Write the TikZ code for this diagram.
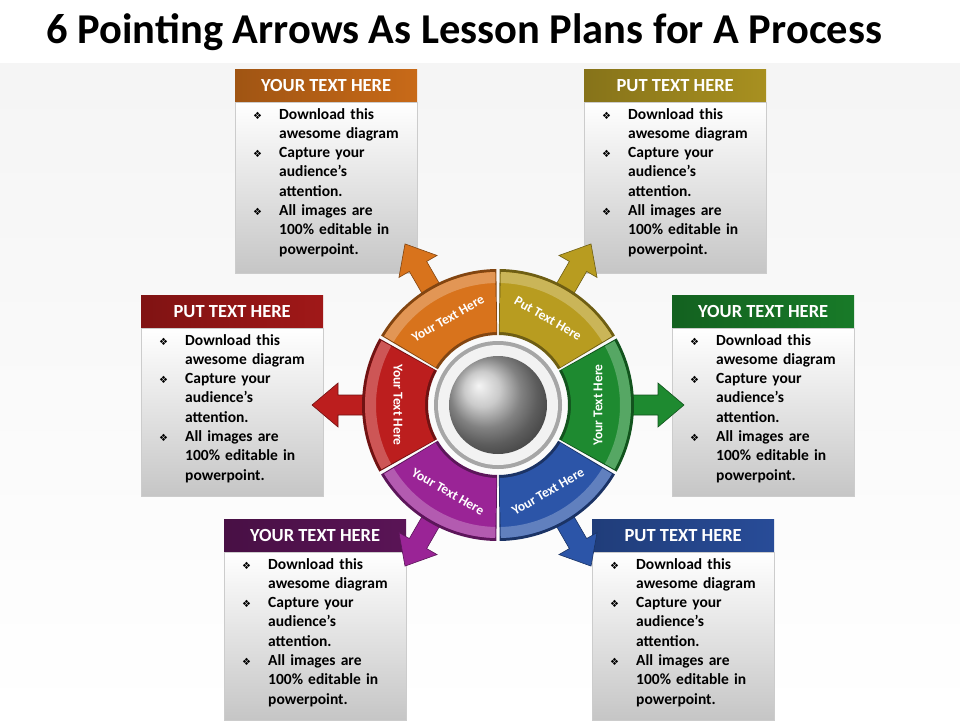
\documentclass[tikz,border=0pt]{standalone}
\usepackage{fontspec}
\setmainfont{Carlito}
\newfontfamily\djv{DejaVu Sans}
\usetikzlibrary{shadings}
\definecolor{cOr}{HTML}{D8731C}
\definecolor{cYe}{HTML}{B89C20}
\definecolor{cRe}{HTML}{BC1E1E}
\definecolor{cGr}{HTML}{1E8A30}
\definecolor{cPu}{HTML}{9A2496}
\definecolor{cBl}{HTML}{2C55A8}
\definecolor{hOr}{HTML}{C86A18}
\definecolor{hYe}{HTML}{A89020}
\definecolor{hRe}{HTML}{A01818}
\definecolor{hGr}{HTML}{187A28}
\definecolor{hPu}{HTML}{5A1456}
\definecolor{hBl}{HTML}{284C98}
\newcommand{\bulx}[1]{\noindent\makebox[26pt][l]{\djv\fontsize{10}{10}\selectfont ❖}#1\par}
\newcommand{\contl}[1]{\noindent\hspace*{26pt}#1\par}
\newcommand{\bodytext}{\bulx{Download this}\contl{awesome diagram}\bulx{Capture your}\contl{audience’s}\contl{attention.}\bulx{All images are}\contl{100\% editable in}\contl{powerpoint.}}
\tikzset{
  hdr/.style={minimum width=182pt,minimum height=33pt,inner sep=0pt,anchor=north west,text=white,font=\fontsize{18.5}{20}\selectfont\bfseries},
  bodybox/.style={minimum width=182pt,anchor=north west,inner sep=0pt,top color=white,bottom color=gray!45,draw=gray!40},
  bodytxt/.style={anchor=north west,text width=170pt,inner sep=0pt,font=\fontsize{15.5}{19.3}\selectfont\bfseries},
  segtxt/.style={text=white,font=\fontsize{13.5}{14}\selectfont\bfseries},
  arr/.style={draw=#1!60!black,line width=0.6pt,fill=#1}
}
\newcommand{\infobox}[6]{% name,x,y,height,color,label
  \node[hdr,left color=#5!80!black,right color=#5] (#1h) at (#2,#3) {#6};
  \node[bodybox,minimum height=#4pt] (#1b) at (#2,#3+33) {};
  \node[bodytxt] (#1t) at (#2+18,#3+39) {\bodytext};
}
\begin{document}
\begin{tikzpicture}[x=1pt,y=-1pt]
\useasboundingbox (0,0) rectangle (960,720);
\fill[top color=gray!8,bottom color=white] (0,63) rectangle (960,720);
\fill[white] (0,0) rectangle (960,63);
\node[anchor=west,font=\fontsize{42.5}{45}\selectfont\bfseries] (title) at (43,32) {6 Pointing Arrows As Lesson Plans for A Process};
% boxes
\infobox{tl}{235}{69}{171}{hOr}{YOUR TEXT HERE}
\infobox{tr}{584}{69}{171}{hYe}{PUT TEXT HERE}
\infobox{ml}{141}{295}{168}{hRe}{PUT TEXT HERE}
\infobox{mr}{672}{295}{168}{hGr}{YOUR TEXT HERE}
\infobox{bl}{224}{519}{168}{hPu}{YOUR TEXT HERE}
\infobox{br}{592}{519}{168}{hBl}{PUT TEXT HERE}
% wheel
\begin{scope}[shift={(498,405)},yscale=-1]
\foreach \a/\c in {120/cOr,60/cYe,0/cGr,-60/cBl,-120/cPu,180/cRe}{
  \begin{scope}[rotate=-\a]
    \draw[arr=\c] (130,-10)--(160,-10)--(160,-22)--(186,0)--(160,22)--(160,10)--(130,10)--cycle;
  \end{scope}
  \fill[\c!60!black] (\a-29.3:136) arc (\a-29.3:\a+29.3:136) -- (\a+29.3:70) arc (\a+29.3:\a-29.3:70) -- cycle;
  \fill[\c] (\a-28.8:133) arc (\a-28.8:\a+28.8:133) -- (\a+28.8:73) arc (\a+28.8:\a-28.8:73) -- cycle;
  \fill[\c!75!white] (\a-28.8:133) arc (\a-28.8:\a+28.8:133) -- (\a+28.8:122) arc (\a+28.8:\a-28.8:122) -- cycle;
}
\node[segtxt,rotate=30] (s1) at (120:100) {Your Text Here};
\node[segtxt,rotate=-30] (s2) at (60:100) {Put Text Here};
\node[segtxt,rotate=90] (s3) at (0:100) {Your Text Here};
\node[segtxt,rotate=30] (s4) at (-60:100) {Your Text Here};
\node[segtxt,rotate=-30] (s5) at (-120:100) {Your Text Here};
\node[segtxt,rotate=-90] (s6) at (180:100) {Your Text Here};
\fill[gray!70] (0,0) circle (64);
\fill[white!90!gray] (0,0) circle (60);
\shade[ball color=gray!55] (0,0) circle (49);
\node[circle,minimum size=98pt,inner sep=0pt] (hub) at (0,0) {};
\end{scope}
\end{tikzpicture}
\end{document}
